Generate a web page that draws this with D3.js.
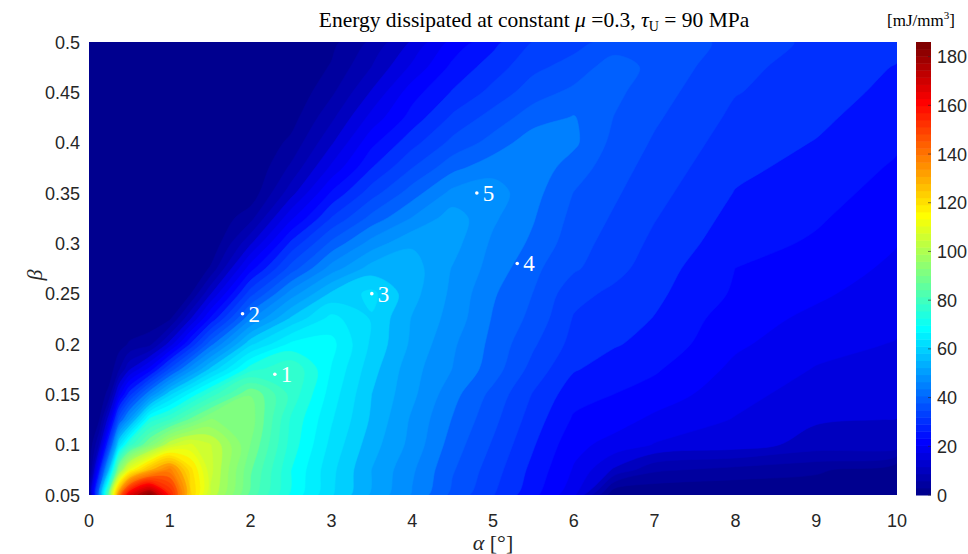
<!DOCTYPE html>
<html><head><meta charset="utf-8">
<script src="https://cdn.jsdelivr.net/npm/d3@7"></script>
<style>body{margin:0;background:#fff}svg{display:block}</style>
</head><body>
<svg id="chart" width="968" height="554"></svg>
<script>
// ---- data ----
const alpha = [0,0.125,0.25,0.375,0.5,0.75,1,1.25,1.5,2,2.5,3,3.5,4,4.5,5,5.5,6,6.5,7,8,9,10];
const beta = [0.05,0.075,0.1,0.125,0.15,0.175,0.2,0.225,0.25,0.275,0.3,0.325,0.35,0.375,0.4,0.425,0.45,0.475,0.5];
// energy[row = beta index][column = alpha index], mJ/mm^3
const energy = [
 [0,45,90,140,168,185,158,125,105,86,72,62.4,54,47,39,33,26.5,19,0,0,0,0,0],
 [0,26,58,95,113,130,140,122,107,88,73,63,54.6,48,40.5,34.5,28,21.5,14,8,6,4.5,0],
 [0,11,34,64,78,92,105,110,106,91,75,64.5,56.2,49.8,42,36,29.5,23,20.5,18,16.5,13,13],
 [0,3,17,39,51,74,80,88,95,93,76,66,57.7,50.4,43.5,37.5,31,25,23.5,21,18,15,14.5],
 [0,1,5,20,31,47,61,70,78,91,79,67.5,58.3,51.9,45,39,32.5,27,25.5,24,19.5,16.5,16],
 [0,0,1,7,14,23,37,49,59,75,80,69,59.7,52.4,47.3,41.9,35,29.5,27.5,26,21,18,17],
 [0,0,0,2,4,6,16,29,42,61,70,70.4,61.2,53.9,48,42.7,37,31.5,29.5,28,22.5,19.5,18],
 [0,0,0,0,1,1,3,14,26,47,59,67,61.6,54.4,49.6,43.4,39,32.5,31,29,23.5,21,19],
 [0,0,0,0,0,0,0,3,14,35,49,59,63,55.9,50.2,44.2,40,34,32,30,25,22.5,20],
 [0,0,0,0,0,0,0,0,4,24,38,49,56.4,56.3,50.8,45.9,41,37,34,31,25.5,24,21],
 [0,0,0,0,0,0,0,0,0,14,30,41,48.9,54.2,52.4,46.7,43,38,35,32,27,25,22],
 [0,0,0,0,0,0,0,0,0,6,21,33,41.4,47.6,53,48,44,39,36,33,28,26,23],
 [0,0,0,0,0,0,0,0,0,1,13,26,34.8,42,48.5,49.1,45,40,37,34,29,27,24],
 [0,0,0,0,0,0,0,0,0,0,8,19,29.1,36.4,42.6,46.1,46,42,38,35,30,28,25],
 [0,0,0,0,0,0,0,0,0,0,4.5,14,24.5,31.5,37.5,41.5,46,44.5,39,36,31,29,26],
 [0,0,0,0,0,0,0,0,0,0,2,10,19.5,27,33.5,38,42,44,40,37,32,30,27],
 [0,0,0,0,0,0,0,0,0,0,0.5,6.5,15,24,29.5,34,38.5,41,41,38,33,31,28],
 [0,0,0,0,0,0,0,0,0,0,0,4,11,19,26.5,31,35.5,38,42,39,34,31,29],
 [0,0,0,0,0,0,0,0,0,0,0,2.5,8,15,23,28,33,35,38,40,35,32,30]
];
const xTicks = [0,1,2,3,4,5,6,7,8,9,10];
const yTicks = [0.05,0.1,0.15,0.2,0.25,0.3,0.35,0.4,0.45,0.5];
const cTicks = [0,20,40,60,80,100,120,140,160,180];
const pointIds = ["1","2","3","4","5"];
const pointAlpha = [2.3,1.9,3.5,5.3,4.8];
const pointBeta = [0.17,0.23,0.25,0.28,0.35];
const zMax = 186;
const nLevels = 50;

// ---- MATLAB jet(m) colormap ----
function jetColormap(m){
  const n=Math.ceil(m/4), u=[];
  for(let k=1;k<=n;k++)u.push(k/n);
  for(let k=1;k<n;k++)u.push(1);
  for(let k=n;k>=1;k--)u.push(k/n);
  const g0=Math.ceil(n/2)-(m%4===1?1:0);
  const cm=Array.from({length:m},()=>[0,0,0]);
  for(let k=0;k<u.length;k++){
    const g=g0+k+1, r=g+n, b=g-n;
    if(g>=1&&g<=m)cm[g-1][1]=u[k];
    if(r>=1&&r<=m)cm[r-1][0]=u[k];
    if(b>=1&&b<=m)cm[b-1][2]=u[k];
  }
  return cm.map(c=>d3.rgb(c[0]*255,c[1]*255,c[2]*255).formatHex());
}
const jet=jetColormap(64);
const colorOf=v=>jet[Math.max(0,Math.min(63,Math.floor(v/zMax*64)))];

const svg=d3.select("#chart");
const P={left:89,right:897,top:42,bottom:495};
const x=d3.scaleLinear().domain([0,10]).range([P.left,P.right]);
const y=d3.scaleLinear().domain([0.05,0.5]).range([P.bottom,P.top]);
const nA=alpha.length,nB=beta.length;
const gi=d3.scaleLinear().domain(d3.range(nA)).range(alpha).clamp(true);
const gj=d3.scaleLinear().domain(d3.range(nB)).range(beta).clamp(true);
const flat=[];
for(let j=0;j<nB;j++)for(let i=0;i<nA;i++)flat.push(energy[j][i]);
const levels=d3.range(nLevels+1).map(i=>i*zMax/(nLevels+1));
const cont=d3.contours().size([nA,nB]).smooth(true).thresholds(levels)(flat);

// smooth each ring of the filled contour with a Catmull-Rom curve
const ringLine=d3.line().curve(d3.curveCatmullRomClosed.alpha(0.5));
function contourPath(mp){
  let s="";
  mp.coordinates.forEach(poly=>poly.forEach(ring=>{
    const pts=[];
    ring.forEach(p=>{
      const q=[x(gi(p[0]-0.5)),y(gj(p[1]-0.5))];
      const last=pts[pts.length-1];
      if(!last||Math.abs(last[0]-q[0])>0.05||Math.abs(last[1]-q[1])>0.05)pts.push(q);
    });
    if(pts.length>1){const f=pts[0],l=pts[pts.length-1];if(Math.abs(f[0]-l[0])<0.05&&Math.abs(f[1]-l[1])<0.05)pts.pop();}
    if(pts.length>2)s+=ringLine(pts);
  }));
  return s;
}

svg.append("defs").append("clipPath").attr("id","clip")
  .append("rect").attr("x",P.left).attr("y",P.top).attr("width",P.right-P.left).attr("height",P.bottom-P.top);
svg.append("g").attr("clip-path","url(#clip)")
  .selectAll("path").data(cont).join("path")
  .attr("d",contourPath).attr("fill-rule","evenodd")
  .attr("fill",d=>colorOf(d.value)).attr("stroke",d=>colorOf(d.value)).attr("stroke-width",0.6);

// points
const serif="'Liberation Serif','Times New Roman',serif";
const pg=svg.append("g");
pointIds.forEach((id,k)=>{
  const px=x(pointAlpha[k]),py=y(pointBeta[k]);
  pg.append("circle").attr("cx",px).attr("cy",py).attr("r",1.8).attr("fill","#fff");
  pg.append("text").attr("x",px+6).attr("y",py+8).attr("fill","#fff")
    .attr("font-family",serif).attr("font-size",23).text(id);
});

const tickFont="'Liberation Sans',Arial,Helvetica,sans-serif";
const ink="#262626";
svg.append("g").selectAll("text").data(xTicks).join("text")
  .attr("x",d=>x(d)).attr("y",527).attr("text-anchor","middle")
  .attr("font-family",tickFont).attr("font-size",18).attr("fill",ink).text(d=>d);
svg.append("g").selectAll("text").data(yTicks).join("text")
  .attr("x",80).attr("y",d=>y(d)+6.5).attr("text-anchor","end")
  .attr("font-family",tickFont).attr("font-size",18).attr("fill",ink).text(d=>d);

const xl=svg.append("text").attr("x",x(5)).attr("y",550).attr("text-anchor","middle")
  .attr("font-family",serif).attr("font-size",22).attr("fill",ink);
xl.append("tspan").attr("font-style","italic").text("α");
xl.append("tspan").text(" [°]");
svg.append("text").attr("transform","translate(42,275) rotate(-90)").attr("text-anchor","middle")
  .attr("font-family",serif).attr("font-style","italic").attr("font-size",22).attr("fill",ink).text("β");

const t=svg.append("text").attr("x",534).attr("y",27).attr("text-anchor","middle")
  .attr("font-family",serif).attr("font-size",21.5).attr("fill","#000");
t.append("tspan").text("Energy dissipated at constant ");
t.append("tspan").attr("font-style","italic").text("μ");
t.append("tspan").text(" =0.3, ");
t.append("tspan").attr("font-style","italic").text("τ");
t.append("tspan").attr("font-size",14).attr("dy",4).text("U");
t.append("tspan").attr("dy",-4).text(" = 90 MPa");

const cb={x:916,w:15};
const cy=d3.scaleLinear().domain([0,zMax]).range([P.bottom,P.top]);
svg.append("g").selectAll("rect").data(d3.range(64)).join("rect")
  .attr("x",cb.x).attr("width",cb.w)
  .attr("y",k=>cy((k+1)*zMax/64)).attr("height",k=>cy(k*zMax/64)-cy((k+1)*zMax/64)+0.5)
  .attr("fill",k=>jet[k]);
svg.append("g").selectAll("line").data(cTicks).join("line")
  .attr("x1",cb.x+cb.w-3).attr("x2",cb.x+cb.w).attr("y1",d=>cy(d)).attr("y2",d=>cy(d))
  .attr("stroke",ink).attr("stroke-width",0.6);
svg.append("g").selectAll("text").data(cTicks).join("text")
  .attr("x",937).attr("y",d=>cy(d)+6.5).attr("font-family",tickFont).attr("font-size",18).attr("fill",ink).text(d=>d);
const u=svg.append("text").attr("x",921).attr("y",26).attr("text-anchor","middle")
  .attr("font-family",serif).attr("font-size",17).attr("fill","#000");
u.append("tspan").text("[mJ/mm");
u.append("tspan").attr("font-size",11).attr("dy",-7).text("3");
u.append("tspan").attr("dy",7).text("]");
</script>
</body></html>
